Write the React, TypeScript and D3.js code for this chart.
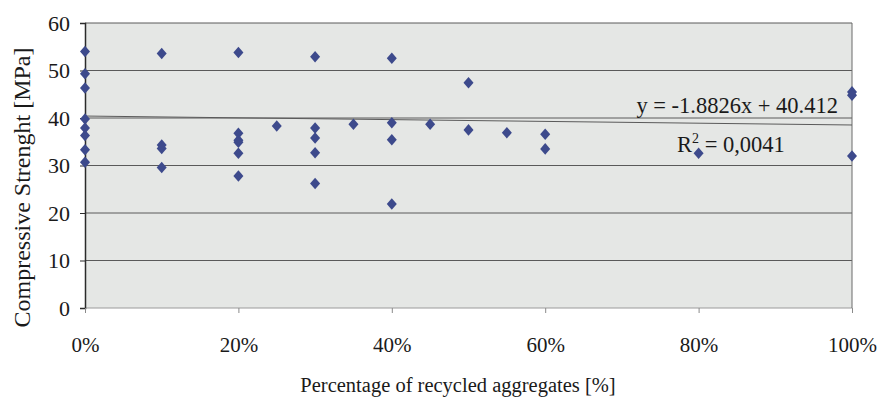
import { useRef, useEffect } from "react";
import * as d3 from "d3";

// recycled aggregate share (fraction) and measured strength [MPa]
const recycled = [
  0, 0, 0, 0, 0, 0, 0, 0,
  0.1, 0.1, 0.1, 0.1,
  0.2, 0.2, 0.2, 0.2, 0.2, 0.2,
  0.25,
  0.3, 0.3, 0.3, 0.3, 0.3,
  0.35,
  0.4, 0.4, 0.4, 0.4,
  0.45,
  0.5, 0.5,
  0.55,
  0.6, 0.6,
  0.8,
  1, 1, 1,
];
const strength = [
  54, 49.3, 46.3, 39.8, 37.9, 36.3, 33.3, 30.7,
  53.6, 34.3, 33.6, 29.6,
  53.8, 36.8, 35.3, 34.9, 32.6, 27.8,
  38.3,
  52.9, 37.9, 35.8, 32.7, 26.2,
  38.7,
  52.6, 39, 35.4, 21.9,
  38.7,
  47.4, 37.5,
  36.9,
  36.6, 33.5,
  32.6,
  45.5, 44.8, 32,
];

// linear trendline coefficients as printed
const slope = -1.8826;
const intercept = 40.412;

const yTicks = [0, 10, 20, 30, 40, 50, 60];
const xTicks = [0, 0.2, 0.4, 0.6, 0.8, 1];

export default function App() {
  const ref = useRef<SVGSVGElement>(null);

  useEffect(() => {
    const svg = d3.select(ref.current);
    svg.selectAll("*").remove();

    const width = 883;
    const height = 398;
    const m = { left: 85, right: 31, top: 23, bottom: 90 };
    const font = "Liberation Serif, Times New Roman, DejaVu Serif, serif";
    const ink = "#2b2b2b";

    const x = d3.scaleLinear().domain([0, 1]).range([m.left, width - m.right]);
    const y = d3.scaleLinear().domain([0, 60]).range([height - m.bottom, m.top]);

    // plot area background
    svg
      .append("rect")
      .attr("x", x(0))
      .attr("y", y(60))
      .attr("width", x(1) - x(0))
      .attr("height", y(0) - y(60))
      .attr("fill", "#e5e7e5");

    // horizontal gridlines
    svg
      .append("g")
      .selectAll("line")
      .data(yTicks)
      .join("line")
      .attr("x1", x(0))
      .attr("x2", x(1))
      .attr("y1", (d) => y(d))
      .attr("y2", (d) => y(d))
      .attr("stroke", (d) => (d === 0 ? "#9a9a9a" : "#5a5a5a"))
      .attr("stroke-width", 1);

    // right border
    svg
      .append("line")
      .attr("x1", x(1))
      .attr("x2", x(1))
      .attr("y1", y(60))
      .attr("y2", y(0))
      .attr("stroke", "#6a6a6a");

    // y axis
    const yAxis = d3.axisLeft(y).tickValues(yTicks).tickSize(5).tickPadding(10);
    const gy = svg.append("g").attr("transform", `translate(${x(0)},0)`).call(yAxis);
    gy.attr("font-family", font);
    gy.select(".domain").attr("stroke", ink).attr("stroke-width", 1.5);
    gy.selectAll(".tick line").attr("stroke", ink);
    gy.selectAll("text")
      .style("font-family", font)
      .attr("font-size", 22)
      .attr("fill", "#1a1a1a");

    // x axis
    const xAxis = d3
      .axisBottom(x)
      .tickValues(xTicks)
      .tickSize(5)
      .tickPadding(24)
      .tickFormat(d3.format(".0%"));
    const gx = svg.append("g").attr("transform", `translate(0,${y(0)})`).call(xAxis);
    gx.attr("font-family", font);
    gx.select(".domain").remove();
    gx.selectAll(".tick line").attr("stroke", "#8a8a8a");
    gx.selectAll("text")
      .style("font-family", font)
      .attr("font-size", 21)
      .attr("fill", "#1a1a1a");

    // trendline
    svg
      .append("line")
      .attr("x1", x(0))
      .attr("x2", x(1))
      .attr("y1", y(intercept))
      .attr("y2", y(intercept + slope))
      .attr("stroke", "#5a5a5a")
      .attr("stroke-width", 1);

    // points
    const diamond = d3.symbol().type(d3.symbolDiamond2).size(64);
    svg
      .append("g")
      .selectAll("path")
      .data(recycled.map((r, i) => [r, strength[i]]))
      .join("path")
      .attr("d", diamond)
      .attr("transform", (d) => `translate(${x(d[0])},${y(d[1])}) scale(1,1.15)`)
      .attr("fill", "#3d4a8c");

    // trendline label
    svg
      .append("text")
      .attr("x", 838)
      .attr("y", 113)
      .attr("text-anchor", "end")
      .style("font-family", font)
      .attr("font-size", 22.5)
      .attr("fill", "#1a1a1a")
      .text(`y = ${slope}x + ${intercept}`);
    const r2 = svg
      .append("text")
      .attr("x", 677)
      .attr("y", 152)
      .style("font-family", font)
      .attr("font-size", 22.5)
      .attr("fill", "#1a1a1a");
    r2.append("tspan").text("R");
    r2.append("tspan").attr("dy", -9).attr("font-size", 14).text("2");
    r2.append("tspan").attr("dy", 9).text(" = 0,0041");

    // axis titles
    svg
      .append("text")
      .attr("transform", `translate(30,${(y(0) + y(60)) / 2 + 22}) rotate(-90)`)
      .attr("text-anchor", "middle")
      .style("font-family", font)
      .attr("font-size", 24)
      .attr("fill", "#1a1a1a")
      .text("Compressive Strenght [MPa]");
    svg
      .append("text")
      .attr("x", 458)
      .attr("y", 392)
      .attr("text-anchor", "middle")
      .style("font-family", font)
      .attr("font-size", 20.5)
      .attr("fill", "#1a1a1a")
      .text("Percentage of recycled aggregates [%]");
  }, []);

  return (
    <svg
      ref={ref}
      width={883}
      height={398}
      style={{ position: "absolute", left: 0, top: 0, background: "#fff" }}
    ></svg>
  );
}
